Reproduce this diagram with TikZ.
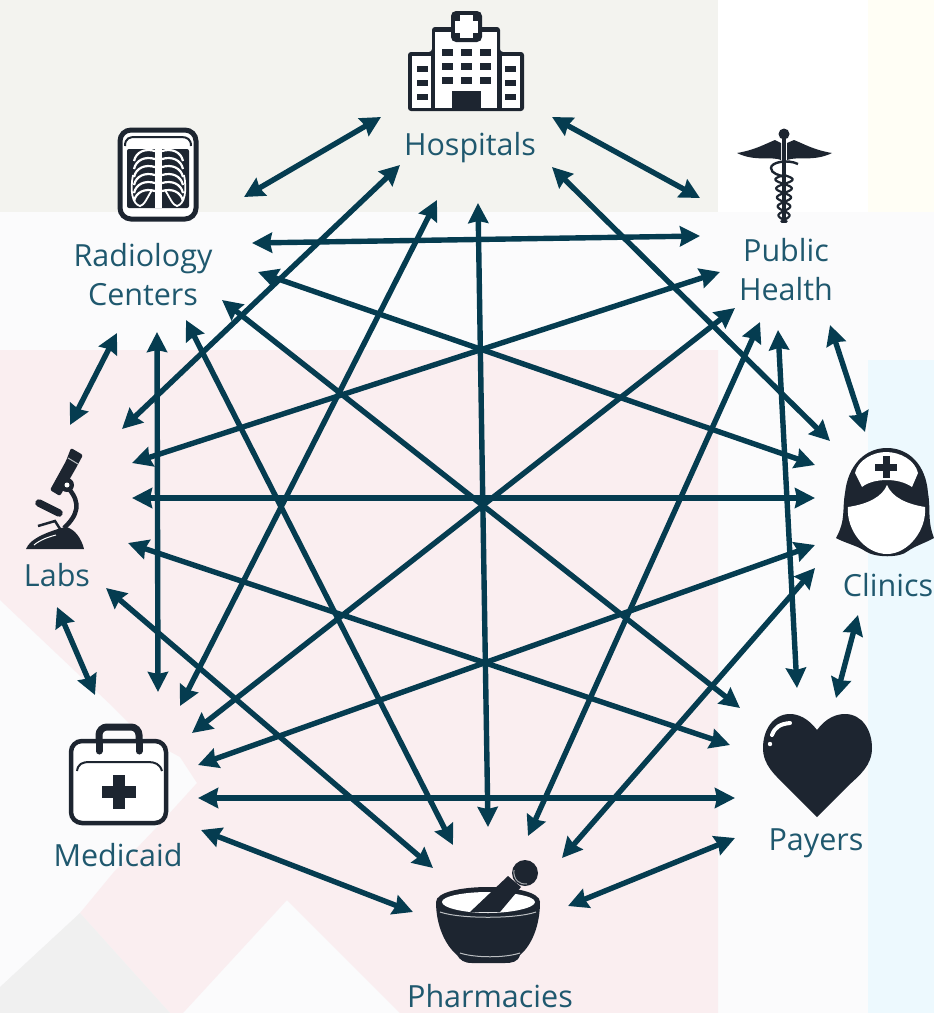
\documentclass[tikz,border=0pt]{standalone}
\usepackage{fontspec}
\setmainfont{Open Sans}
\usetikzlibrary{arrows.meta}

\definecolor{linkblue}{HTML}{053C50}
\definecolor{labelblue}{HTML}{1F586E}
\definecolor{icondark}{HTML}{1D2530}
\definecolor{bgpink}{HTML}{FAEEF0}
\definecolor{bggrey}{HTML}{F3F3EF}
\definecolor{bgpale}{HTML}{FBFBFC}

\tikzset{
  link/.style={linkblue, line width=5.4pt, {Stealth[length=20pt,width=20pt,inset=2pt]}-{Stealth[length=20pt,width=20pt,inset=2pt]}},
  place/.style={labelblue, font=\fontsize{30.5}{39}\selectfont, align=center, inner sep=0pt},
  solid icon/.style={fill=icondark, draw=none},
  blank/.style={fill=white, draw=none}
}

\begin{document}
\begin{tikzpicture}[x=1pt,y=-1pt]

    \useasboundingbox (0,0) rectangle (934,1013);

    % these are the background patches
    \fill[white] (0,0) rectangle (934,1013);
    \fill[bggrey] (0,0) rectangle (718,212);
    \fill[bgpale] (0,212) rectangle (934,360);
    \fill[white] (718,0) rectangle (868,212);
    \fill[yellow!4!white] (868,0) rectangle (934,212);
    \fill[bgpale] (0,350) rectangle (868,1013);
    \fill[cyan!7!white] (868,360) rectangle (934,1013);
    \fill[bgpink] (0,350) -- (718,350) -- (718,1013) -- (400,1013) -- (287,900) -- (183,1013) -- (170,1013) -- (80,913) -- (113,873) -- (157,827) -- (197,783) -- (180,757) -- (143,737) -- (113,707) -- (0,600) -- cycle;
    \fill[black!6!white] (0,1013) -- (0,987) -- (80,913) -- (170,1013) -- cycle;

    % these are the labels
    \node[place] (hospitals) at (470,148) {Hospitals};
    \node[place] (radiology) at (143,275) {Radiology\\Centers};
    \node[place] (publichealth) at (786,270) {Public\\Health};
    \node[place] (clinics) at (888,585) {Clinics};
    \node[place] (payers) at (816,843) {Payers};
    \node[place, anchor=base, text depth=0pt] (pharmacies) at (490,1007) {Pharmacies};
    \node[place] (medicaid) at (118,855) {Medicaid};
    \node[place] (labs) at (57,575) {Labs};

    % hospital
    \fill[icondark, rounded corners=3pt] (408,111) -- (408,52) -- (432,52) -- (432,27) -- (500,27) -- (500,52) -- (524,52) -- (524,111) -- cycle;
    \fill[white] (412,56) rectangle (431,108);
    \fill[white] (502,56) rectangle (520,108);
    \fill[white] (435,32) rectangle (497,108);
    \fill[icondark, rounded corners=5pt] (451,11) rectangle (482,42);
    \fill[white] (460,15) rectangle (473,38);
    \fill[white] (455,20.5) rectangle (478,32.5);
    \fill[icondark] (452,91) rectangle (481,111);
    \foreach \wx in {442,461,480} \foreach \wy in {49,63,77}
      \fill[icondark] (\wx,\wy) rectangle ++(11,7);
    \foreach \wx in {417,505} \foreach \wy in {66,80,94}
      \fill[icondark] (\wx,\wy) rectangle ++(10.5,6);

    % x-ray
    \draw[icondark, line width=5pt, fill=white, rounded corners=11pt] (120,130) rectangle (196,219);
    \draw[icondark, line width=2pt] (125,146) .. controls (125,138) and (130,137) .. (135,137) -- (181,137) .. controls (187,137) and (191,139) .. (191,146);
    \fill[icondark, rounded corners=2pt] (127,149) rectangle (189,208);
    \foreach \ry in {151,159,167,175,183,191} {
      \draw[white, line width=2.2pt] (155,\ry) .. controls (145,\ry-3) and (136,\ry+1) .. (134,\ry+10);
      \draw[white, line width=2.2pt] (162,\ry) .. controls (172,\ry-3) and (181,\ry+1) .. (183,\ry+10);
    }
    \draw[white, line width=1.8pt] (133,175) .. controls (130,190) and (132,204) .. (140,206) .. controls (144,206) and (148,196) .. (152,190);
    \draw[white, line width=1.8pt] (184,175) .. controls (187,190) and (185,204) .. (177,206) .. controls (173,206) and (169,196) .. (165,190);
    \draw[white, line width=7pt] (158.5,149) -- (158.5,208);

    % caduceus
    \fill[solid icon] (737,153) .. controls (755,150) and (765,144) .. (775,140) -- (781,143) -- (781,160) .. controls (772,156) and (755,162) .. (737,153) -- cycle;
    \fill[solid icon] (832,153) .. controls (814,150) and (804,144) .. (794,140) -- (787,143) -- (787,160) .. controls (797,156) and (814,162) .. (832,153) -- cycle;
    \draw[icondark, line width=3.5pt] (784,134) -- (784,223);
    \fill[icondark] (784,134) circle (5.5);
    \draw[icondark, line width=2.4pt] (798,164) .. controls (788,159) and (771,162) .. (771,168) .. controls (771,174) and (780,175) .. (784,177);
    \draw[icondark, line width=2.2pt, domain=175:222, samples=60, smooth] plot ({784+(9-4*(\x-175)/47)*sin(20*(\x-175))},\x);
    \draw[icondark, line width=2.2pt, domain=175:222, samples=60, smooth] plot ({784-(9-4*(\x-175)/47)*sin(20*(\x-175))},\x);

    % nurse
    \fill[solid icon] (836,538) .. controls (846,520) and (842,510) .. (845,493) .. controls (848,465) and (865,448) .. (887,448) .. controls (909,448) and (926,465) .. (928,493) .. controls (931,510) and (927,520) .. (934,538) .. controls (925,543) and (915,546) .. (908,551) .. controls (900,558) and (875,558) .. (865,551) .. controls (858,546) and (845,543) .. (836,538) -- cycle;
    \fill[blank] (855,473) .. controls (858,460) and (873,452) .. (886,452) .. controls (900,452) and (915,460) .. (918,473) -- (912,487) .. controls (905,482) and (895,480) .. (887,480) .. controls (878,480) and (868,482) .. (862,487) -- cycle;
    \fill[blank] (887,485) .. controls (882,497) and (868,504) .. (848,507) .. controls (846,530) and (865,554) .. (887,554) .. controls (908,554) and (927,530) .. (925,507) .. controls (906,504) and (892,497) .. (887,485) -- cycle;
    \fill[icondark] (882.5,456) rectangle (889.5,478);
    \fill[icondark] (875,463.5) rectangle (897,470.5);

    % microscope
    \fill[solid icon, rounded corners=2pt] (71,448) -- (83,455) -- (76,468) -- (60,496) -- (50,490) -- (66,461) -- cycle;
    \draw[white!70!icondark, line width=1pt] (68,458) -- (78,464);
    \draw[icondark, line width=7.5pt, line cap=round] (39,503) -- (59,513);
    \draw[icondark, line width=2.5pt] (38,526) -- (55,521) -- (62,532);
    \draw[icondark, line width=4.5pt] (69,489) .. controls (81,503) and (78,515) .. (64,528);
    \fill[solid icon] (26,549) .. controls (30,538) and (50,531) .. (65,527) .. controls (75,528) and (82,540) .. (84,549) -- cycle;
    \draw[white, line width=1pt] (34,545) .. controls (40,540) and (48,537) .. (56,535);
    \fill[icondark] (67,485) circle (7);
    \fill[white] (67,485) circle (2.5);

    % medical bag
    \draw[icondark, line width=7pt, rounded corners=8pt, line cap=round] (99,752) -- (99,727) -- (139,727) -- (139,752);
    \draw[icondark, line width=4.5pt, fill=white, rounded corners=11pt] (71,741) rectangle (166,823);
    \draw[icondark, line width=7pt, line cap=round] (99,742) -- (99,751);
    \draw[icondark, line width=7pt, line cap=round] (139,742) -- (139,751);
    \draw[icondark, line width=2pt] (77,771) .. controls (78,764) and (82,762) .. (90,762) -- (148,762) .. controls (155,762) and (160,764) .. (162,771);
    \fill[icondark] (113,775) rectangle (125,809);
    \fill[icondark] (102,786) rectangle (136,798);

    % mortar
    \fill[solid icon] (436,902) .. controls (436,892) and (462,887) .. (488,887) .. controls (514,887) and (540,892) .. (540,902) .. controls (540,925) and (532,945) .. (520,955) .. controls (518,962) and (512,963) .. (505,963) -- (472,963) .. controls (464,963) and (460,960) .. (457,955) .. controls (445,945) and (436,925) .. (436,902) -- cycle;
    \fill[white] (442,902) .. controls (442,896) and (465,892) .. (488,892) .. controls (511,892) and (535,896) .. (535,902) .. controls (535,908) and (511,913) .. (488,913) .. controls (465,913) and (442,908) .. (442,902) -- cycle;
    \draw[white!70!icondark, line width=1pt] (440,912) .. controls (460,919) and (516,919) .. (536,912);
    \draw[white!70!icondark, line width=1pt] (460,953) .. controls (475,958) and (505,958) .. (520,953);
    \fill[solid icon] (470,912) -- (500,912) -- (521,887) -- (508,876) -- cycle;
    \fill[icondark] (525,873) circle (13);
    \draw[white!60!icondark, line width=1pt] (514,870) .. controls (513,880) and (520,885) .. (527,884);

    % heart
    \fill[solid icon] (817,730) .. controls (808,718) and (798,714) .. (790,714) .. controls (773,714) and (763,730) .. (763,748) .. controls (763,765) and (775,775) .. (785,785) -- (817,817) -- (849,785) .. controls (860,775) and (872,765) .. (872,748) .. controls (872,730) and (862,714) .. (845,714) .. controls (836,714) and (826,718) .. (817,730) -- cycle;
    \draw[white, line width=4pt, line cap=round] (772,735) .. controls (775,727) and (780,724) .. (790,723);
    \fill[white] (770,744) circle (2.2);

    % these are the arrow ends
    \coordinate (hospPub) at (552,117); \coordinate (hospRad) at (381,117); \coordinate (hospLab) at (400,165);
    \coordinate (hospMed) at (437,200); \coordinate (hospPha) at (478,203); \coordinate (hospCli) at (552,167);
    \coordinate (pubHos) at (700,198); \coordinate (pubRad) at (700,236); \coordinate (pubCli) at (830,325);
    \coordinate (pubPay) at (778,330); \coordinate (pubPha) at (760,322); \coordinate (pubMed) at (735,308);
    \coordinate (pubLab) at (720,272);
    \coordinate (cliPub) at (865,432); \coordinate (cliHos) at (830,441); \coordinate (cliRad) at (815,465);
    \coordinate (cliLab) at (815,498); \coordinate (cliMed) at (815,545); \coordinate (cliPha) at (815,568);
    \coordinate (cliPay) at (858,615);
    \coordinate (payCli) at (836,698); \coordinate (payPub) at (797,688); \coordinate (payRad) at (740,708);
    \coordinate (payLab) at (730,745); \coordinate (payMed) at (735,798); \coordinate (payPha) at (735,838);
    \coordinate (phaPay) at (568,906); \coordinate (phaCli) at (562,858); \coordinate (phaPub) at (528,836);
    \coordinate (phaHos) at (488,827); \coordinate (phaRad) at (453,845); \coordinate (phaLab) at (433,868);
    \coordinate (phaMed) at (413,912);
    \coordinate (medPha) at (201,830); \coordinate (medPay) at (198,798); \coordinate (medCli) at (198,765);
    \coordinate (medPub) at (192,733); \coordinate (medHos) at (180,706); \coordinate (medRad) at (158,692);
    \coordinate (medLab) at (95,695);
    \coordinate (labMed) at (57,607); \coordinate (labPha) at (106,588); \coordinate (labPay) at (128,543);
    \coordinate (labCli) at (132,498); \coordinate (labPub) at (132,463); \coordinate (labHos) at (122,429);
    \coordinate (labRad) at (70,425);
    \coordinate (radLab) at (117,333); \coordinate (radMed) at (157,332); \coordinate (radPha) at (186,320);
    \coordinate (radPay) at (222,300); \coordinate (radCli) at (258,272); \coordinate (radPub) at (252,243);
    \coordinate (radHos) at (244,197);

    % these are the arrows
    \foreach \from/\to in {hospPub/pubHos, hospRad/radHos, hospLab/labHos, hospMed/medHos, hospPha/phaHos, hospCli/cliHos,
        pubRad/radPub, pubCli/cliPub, pubPay/payPub, pubPha/phaPub, pubMed/medPub, pubLab/labPub,
        cliRad/radCli, cliLab/labCli, cliMed/medCli, cliPha/phaCli, cliPay/payCli,
        payRad/radPay, payLab/labPay, payMed/medPay, payPha/phaPay,
        phaRad/radPha, phaLab/labPha, phaMed/medPha,
        medRad/radMed, medLab/labMed, labRad/radLab}
      \draw[link] (\from) -- (\to);

\end{tikzpicture}
\end{document}
